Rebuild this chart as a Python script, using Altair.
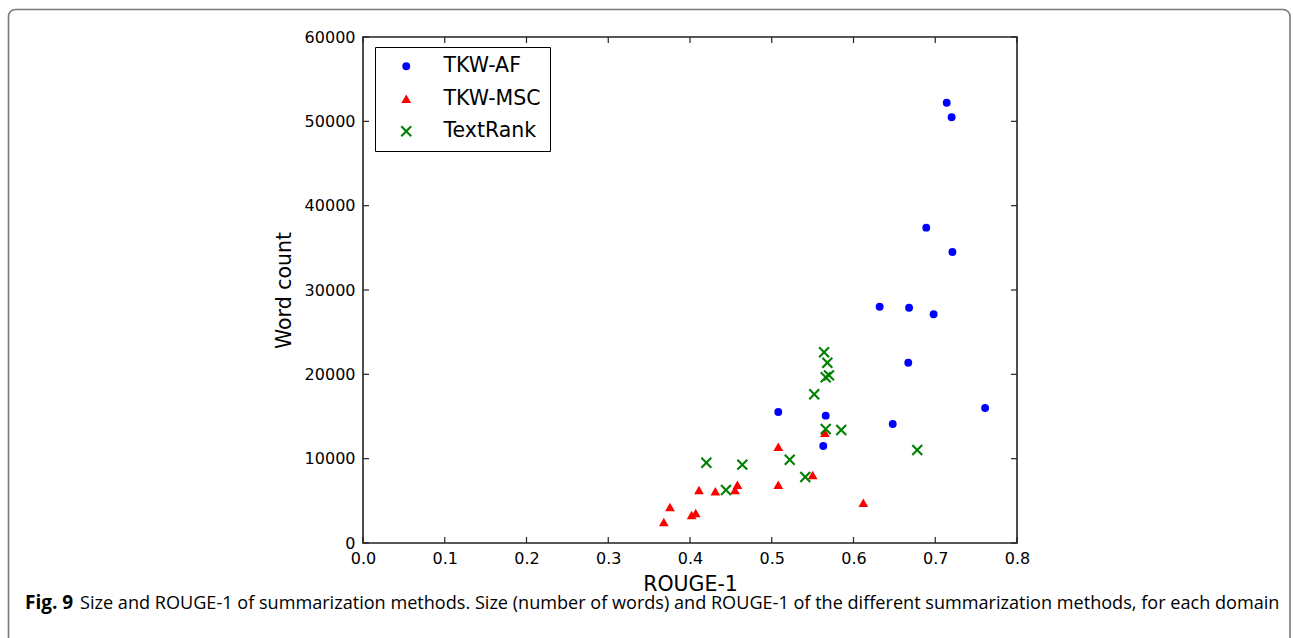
import altair as alt
import pandas as pd

# ---- data ----
af_x = [0.714, 0.720, 0.689, 0.721, 0.632, 0.668, 0.698, 0.667, 0.761, 0.508, 0.566, 0.648, 0.563]
af_y = [52200, 50480, 37390, 34510, 28020, 27900, 27120, 21380, 16010, 15530, 15100, 14110, 11500]

msc_x = [0.565, 0.508, 0.550, 0.508, 0.458, 0.455, 0.612, 0.411, 0.431, 0.3755, 0.402, 0.407, 0.368]
msc_y = [13080, 11420, 8060, 6920, 6920, 6285, 4780, 6285, 6130, 4270, 3320, 3560, 2490]

tr_x = [0.564, 0.568, 0.570, 0.566, 0.552, 0.566, 0.585, 0.678, 0.522, 0.464, 0.541, 0.444, 0.420]
tr_y = [22610, 21380, 19880, 19650, 17630, 13520, 13400, 11030, 9880, 9290, 7830, 6285, 9520]

series = ["TKW-AF", "TKW-MSC", "TextRank"]
colors = ["#0000ff", "#ff0000", "#008000"]
x_ticks = [0.0, 0.1, 0.2, 0.3, 0.4, 0.5, 0.6, 0.7, 0.8]
y_ticks = [0, 10000, 20000, 30000, 40000, 50000, 60000]
caption_bold = "Fig. 9"
caption_rest = ("Size and ROUGE-1 of summarization methods. Size (number of words) and ROUGE-1 "
                "of the different summarization methods, for each domain")

X_PATH = ("M-1,-0.74L-0.74,-1L0,-0.26L0.74,-1L1,-0.74L0.26,0L1,0.74L0.74,1L0,0.26"
          "L-0.74,1L-1,0.74L-0.26,0Z")
shapes = ["circle", "triangle-up", X_PATH]
sizes = [62, 130, 52]

rows = []
for name, xs, ys in zip(series, [af_x, msc_x, tr_x], [af_y, msc_y, tr_y]):
    for a, b in zip(xs, ys):
        rows.append({"ROUGE-1": a, "Word count": b, "series": name})
df = pd.DataFrame(rows)

W, H = 654, 506
FONT = "DejaVu Sans"
CAP_FONT = "Open Sans"

xs = alt.Scale(domain=[0, 0.8], nice=False, zero=False)
ys = alt.Scale(domain=[0, 60000], nice=False)

points = alt.Chart(df).mark_point(filled=True, opacity=1).encode(
    x=alt.X("ROUGE-1:Q", scale=xs,
            axis=alt.Axis(values=x_ticks, format=".1f", grid=False, domain=False, ticks=False,
                          labelFlush=False, labelOverlap=False,
                          labelFont=FONT, labelFontSize=16, labelColor="black", labelPadding=7,
                          title="ROUGE-1", titleFont=FONT, titleFontSize=20.5,
                          titleFontWeight="normal", titleColor="black", titlePadding=8)),
    y=alt.Y("Word count:Q", scale=ys,
            axis=alt.Axis(values=y_ticks, format="d", grid=False, domain=False, ticks=False,
                          labelFlush=False, labelOverlap=False,
                          labelFont=FONT, labelFontSize=16, labelColor="black", labelPadding=8,
                          title="Word count", titleFont=FONT, titleFontSize=20.5,
                          titleFontWeight="normal", titleColor="black", titlePadding=10)),
    color=alt.Color("series:N", title=None,
                    scale=alt.Scale(domain=series, range=colors),
                    legend=alt.Legend(orient="none", legendX=12, legendY=10,
                                      strokeColor="black", fillColor="white", padding=9,
                                      labelFont=FONT, labelFontSize=20.5, labelColor="black",
                                      symbolOffset=12, labelOffset=27, rowPadding=11.5,
                                      symbolStrokeWidth=0)),
    shape=alt.Shape("series:N", title=None,
                    scale=alt.Scale(domain=series, range=shapes)),
    size=alt.Size("series:N", legend=None,
                  scale=alt.Scale(domain=series, range=sizes)),
)

xt = pd.DataFrame({"v": x_ticks})
yt = pd.DataFrame({"v": y_ticks})
TL = 6
tick_style = dict(color="#222222", strokeWidth=1.2)
xtick_bottom = alt.Chart(xt).mark_rule(**tick_style).encode(
    x=alt.X("v:Q", scale=xs), y=alt.value(H), y2=alt.value(H - TL))
xtick_top = alt.Chart(xt).mark_rule(**tick_style).encode(
    x=alt.X("v:Q", scale=xs), y=alt.value(0), y2=alt.value(TL))
ytick_left = alt.Chart(yt).mark_rule(**tick_style).encode(
    y=alt.Y("v:Q", scale=ys), x=alt.value(0), x2=alt.value(TL))
ytick_right = alt.Chart(yt).mark_rule(**tick_style).encode(
    y=alt.Y("v:Q", scale=ys), x=alt.value(W), x2=alt.value(W - TL))

one = pd.DataFrame({"a": [0]})
frame = alt.Chart(one).mark_rect(fill="white", fillOpacity=0, stroke="#7a7a7a",
                                 strokeWidth=1.6, cornerRadius=7).encode(
    x=alt.value(-354.5), x2=alt.value(927), y=alt.value(-27.5), y2=alt.value(700))

cap1 = alt.Chart(one).mark_text(text=caption_bold, font=CAP_FONT, fontWeight="bold", fontSize=19,
                                align="left", baseline="alphabetic", color="black").encode(
    x=alt.value(25 - 363), y=alt.value(608.5 - 37))
cap2 = alt.Chart(one).mark_text(text=caption_rest, font=CAP_FONT, fontSize=18.1,
                                align="left", baseline="alphabetic", color="black").encode(
    x=alt.value(80 - 363), y=alt.value(608.5 - 37))

chart = alt.layer(frame, xtick_bottom, xtick_top, ytick_left, ytick_right, points, cap1, cap2).properties(
    width=W, height=H,
    autosize=alt.AutoSizeParams(type="none"),
    padding={"left": 363, "top": 37, "right": 1293 - 363 - W, "bottom": 638 - 37 - H},
    background="white",
).configure_view(stroke="#222222", strokeWidth=1.6)

chart.save("out.html", embed_options={"renderer": "svg", "actions": False})
